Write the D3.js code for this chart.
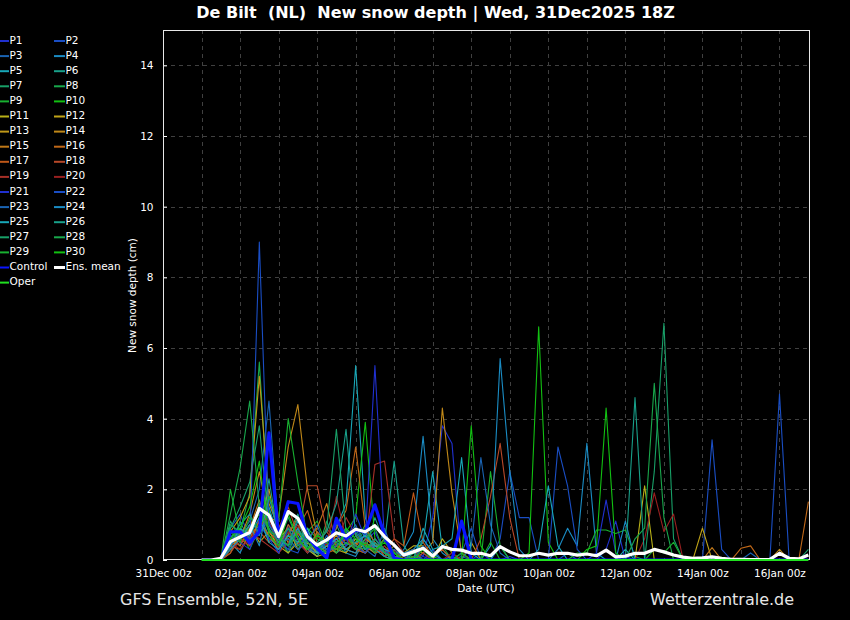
<!DOCTYPE html>
<html>
<head>
<meta charset="utf-8">
<script src="https://cdn.jsdelivr.net/npm/d3@7"></script>
<style>
  html, body { margin: 0; padding: 0; background: #000; }
  svg { display: block; font-family: 'DejaVu Sans', sans-serif; }
</style>
</head>
<body>
<div id="chart"></div>
<script>
/* global d3 */

// titles
const TITLE = 'De Bilt  (NL)  New snow depth | Wed, 31Dec2025 18Z';
const SUBTITLE_LEFT = 'GFS Ensemble, 52N, 5E';
const SUBTITLE_RIGHT = 'Wetterzentrale.de';
const Y_LABEL = 'New snow depth (cm)';
const X_LABEL = 'Date (UTC)';

// time axis: 6-hourly steps from 01Jan 00z to 16Jan 18z
const FIRST_STEP = Date.UTC(2026, 0, 1, 0);
const STEP_HOURS = 6;
const X_START = Date.UTC(2025, 11, 31, 0);
const X_END = Date.UTC(2026, 0, 16, 19);
const Y_TICKS = [0, 2, 4, 6, 8, 10, 12, 14];

// new snow depth (cm), one value per 6h step, 8 steps per row
const P1 = [0, 0, 0, 0.6, 0.9, 0.4, 1.2, 0.7,
  0.3, 1.0, 0.5, 0.2, 0.4, 0.1, 0.6, 0.9,
  0.3, 0.5, 0.8, 0.2, 0, 0, 0.3, 0.1,
  1.2, 3.8, 3.3, 0, 0, 0.2, 0, 0,
  0.1, 0, 0, 0, 0, 0, 0, 0,
  0, 0, 0.3, 1.1, 0, 0, 0, 0,
  0, 0, 0, 0, 0, 0, 0, 0,
  0, 0, 0, 0, 0, 0, 0, 0];
const P2 = [0, 0, 0, 0.9, 1.3, 0.6, 0.8, 1.1,
  0.5, 0.3, 0.9, 0.4, 0.2, 0.7, 0.3, 0.6,
  1.0, 0.4, 0.2, 0.6, 0, 0.2, 0, 0,
  0.3, 0, 0, 0.2, 0.9, 0, 0, 0.6,
  2.5, 1.2, 1.2, 0, 0, 0, 0.2, 0,
  0, 0, 0, 0, 0.1, 0, 0, 0,
  0, 0, 0, 0, 0, 3.4, 0.3, 0,
  0, 0, 0, 0, 0, 0, 0, 0];
const P3 = [0, 0, 0, 0.4, 0.7, 1.1, 2.0, 4.5,
  0.8, 0.2, 0.6, 0.3, 0.1, 0.5, 0.2, 0.4,
  0.6, 0.3, 0.1, 0.9, 0.1, 0, 0, 0.2,
  0, 0, 0, 0.1, 0, 0, 0, 0,
  0, 0, 0, 0, 0, 0, 0, 0,
  0, 0, 0, 0, 0, 0, 0, 0,
  0, 0, 0, 0, 0, 0, 0, 0,
  0, 0.2, 0, 0, 0, 0, 0, 0];
const P4 = [0, 0, 0, 0.5, 0.2, 0.8, 1.4, 0.6,
  0.4, 0.9, 0.7, 0.2, 0.5, 0.3, 0.8, 0.2,
  0.1, 0.6, 0.4, 0.2, 0, 0.3, 0.8, 3.5,
  0.6, 0.2, 0, 0, 0, 0, 0, 0.4,
  0, 0, 0, 0, 0, 0.3, 0.9, 0.4,
  3.3, 0.2, 0, 0, 0, 0, 0, 0,
  0, 0, 0, 0, 0, 0, 0, 0,
  0, 0, 0, 0, 0, 0, 0, 0];
const P5 = [0, 0, 0, 0.7, 0.4, 1.0, 0.9, 1.5,
  0.6, 0.4, 1.1, 0.5, 0.3, 0.2, 0.9, 1.6,
  5.5, 1.2, 0.4, 0.3, 0.1, 0, 0.2, 0.5,
  2.5, 0.3, 0, 0, 0, 0, 0, 0,
  0, 0, 0, 0, 0, 0, 0, 0,
  0, 0, 0, 0, 0.3, 0, 0, 0,
  0, 0, 0, 0, 0, 0, 0, 0,
  0, 0, 0, 0, 0, 0, 0, 0];
const P6 = [0, 0, 0, 0.3, 1.1, 0.5, 1.6, 0.9,
  0.2, 0.7, 1.3, 0.4, 0.1, 0.6, 1.0, 0.4,
  0.8, 0.3, 1.2, 0.5, 2.8, 0.4, 0, 0.6,
  0.2, 0, 0.1, 0, 0, 0, 0, 0,
  0, 0, 0, 0, 0, 0, 0, 0,
  0, 0, 0, 0, 0, 0, 0, 0,
  0, 0, 0, 0, 0, 0, 0, 0,
  0, 0, 0, 0, 0, 0, 0, 0];
const P7 = [0, 0, 0, 0.9, 1.5, 2.2, 3.8, 1.0,
  0.5, 1.2, 0.6, 0.3, 0.8, 0.2, 0.5, 0.7,
  0.4, 0.9, 0.3, 0.1, 0.4, 0.2, 0.3, 0,
  0, 0, 0, 0, 0, 0, 0, 0,
  0, 0, 0, 0, 0, 0, 0, 0,
  0, 0, 0, 0, 0, 0, 0, 2.5,
  6.7, 0.6, 0, 0, 0, 0, 0, 0,
  0, 0, 0, 0, 0, 0, 0, 0];
const P8 = [0, 0, 0, 1.0, 0.8, 1.9, 5.6, 1.2,
  0.6, 0.2, 0.9, 0.5, 0.2, 1.1, 0.4, 0.2,
  0.7, 0.3, 0.5, 0.2, 0, 0, 0.1, 0,
  0, 0.4, 0, 0, 0, 0, 0, 0,
  0, 0, 0, 0, 0, 0, 0, 0,
  0, 0, 0, 0, 0, 0, 0, 0,
  0, 0, 0, 0, 0, 0, 0, 0,
  0, 0, 0, 0, 0, 0, 0, 0];
const P9 = [0, 0, 0, 2.0, 0.7, 0.9, 1.3, 0.5,
  0.9, 0.6, 0.3, 0.8, 1.1, 0.4, 0.6, 0.3,
  0.5, 1.0, 0.2, 0.4, 0.1, 0, 0, 0,
  0.1, 0, 0, 0, 0, 0, 2.5, 0.4,
  0, 0, 0, 0, 0, 0, 0, 0.2,
  0.2, 0.85, 0.85, 0.75, 0.85, 0.1, 0, 0,
  0, 0, 0, 0, 0, 0, 0, 0,
  0, 0, 0, 0, 0, 0, 0, 0];
const P10 = [0, 0, 0, 0.5, 0.8, 0.3, 0.9, 1.4,
  0.3, 0.8, 0.4, 0.9, 0.6, 0.4, 0.2, 0.8,
  1.2, 3.9, 0.6, 0.3, 0.2, 0, 0, 0,
  0, 0, 0, 0, 0, 0, 0, 0,
  0, 0, 0.2, 6.6, 0.5, 0, 0, 0,
  0, 0, 0, 0, 0, 0, 0, 0,
  0, 0, 0, 0, 0, 0, 0, 0,
  0, 0, 0, 0, 0, 0, 0, 0];
const P11 = [0, 0, 0, 0.3, 0.6, 1.0, 0.5, 0.8,
  0.4, 0.2, 0.5, 0.3, 0.1, 0.2, 0.4, 0.6,
  0.3, 0.2, 0.5, 0.1, 0, 0.2, 0.4, 0.4,
  0, 0.6, 0.2, 0, 0, 0, 0, 0,
  0, 0, 0, 0, 0, 0, 0, 0,
  0, 0, 0, 0, 0, 0, 2.1, 0,
  0, 0, 0, 0, 0, 0, 0, 0,
  0, 0, 0, 0, 0, 0, 0, 0];
const P12 = [0, 0, 0, 0.2, 0.8, 0.5, 1.1, 2.0,
  0.6, 0.9, 0.3, 0.5, 0.2, 0.4, 0.3, 0.2,
  0.6, 0.4, 0.2, 0.3, 0.1, 0, 0.1, 0,
  0, 0, 0, 0, 0.5, 0, 0, 0,
  0, 0, 0, 0, 0, 0, 0, 0,
  0, 0, 0, 0, 0, 0, 0, 0,
  0, 0, 0, 0, 0.9, 0, 0, 0,
  0, 0, 0, 0, 0, 0, 0, 0];
const P13 = [0, 0, 0, 0.8, 1.2, 1.8, 5.2, 1.6,
  0.9, 0.5, 0.8, 0.3, 0.2, 0.4, 0.7, 0.3,
  0.2, 0.5, 0.3, 0.6, 0.2, 0, 0, 0,
  0, 0, 0, 0, 0, 0, 0, 0,
  0, 0, 0, 0, 0, 0, 0, 0,
  0, 0, 0, 0, 0, 0, 0, 0,
  0, 0, 0, 0, 0, 0, 0, 0,
  0, 0, 0, 0, 0, 0, 0, 0];
const P14 = [0, 0, 0, 0.4, 0.6, 1.3, 2.5, 1.1,
  1.2, 3.2, 4.4, 2.0, 0.7, 0.4, 0.2, 0.5,
  0.3, 0.6, 0.4, 0.2, 0, 0.1, 0.3, 0.2,
  0.5, 4.3, 1.9, 0.2, 0, 0, 0, 0,
  0, 0, 0, 0, 0, 0, 0, 0,
  0, 0, 0, 0, 0, 0, 0, 0,
  0, 0, 0, 0, 0, 0, 0, 0,
  0, 0, 0, 0, 0.3, 0, 0, 0];
const P15 = [0, 0, 0, 0.6, 0.4, 0.9, 1.7, 0.8,
  0.5, 0.7, 1.2, 0.6, 0.9, 1.6, 0.4, 0.3,
  0.5, 0.2, 0.6, 0.3, 0.1, 0, 0, 0,
  0, 0, 0, 0, 0, 0, 0, 0,
  0, 0, 0, 0, 0, 0, 0, 0,
  0, 0, 0, 0, 0, 0, 0, 0,
  0, 0, 0, 0, 0, 0.35, 0, 0,
  0, 0, 0, 0, 0, 0, 0, 0];
const P16 = [0, 0, 0, 0.5, 0.9, 0.6, 1.1, 0.7,
  0.3, 1.0, 0.6, 0.2, 0.8, 0.5, 0.9, 1.4,
  3.2, 0.9, 0.5, 0.2, 0.4, 0.1, 0, 0,
  0, 0, 0, 0, 0, 0, 0, 0,
  0, 0, 0, 0, 0, 0, 0, 0,
  0, 0, 0, 0, 0, 0, 0, 0,
  0, 0, 0, 0, 0, 0, 0, 0,
  0.33, 0.4, 0, 0, 0, 0, 0, 1.65];
const P17 = [0, 0, 0, 0.4, 0.3, 0.7, 0.9, 1.3,
  0.4, 0.6, 0.9, 1.4, 0.5, 0.2, 0.3, 0.6,
  0.4, 0.7, 0.3, 0.2, 0.6, 0.4, 1.9, 0.5,
  0.1, 0.3, 0, 0, 0, 0, 0, 0,
  0, 0, 0, 0, 0, 0, 0, 0,
  0, 0, 0, 0, 0, 0, 0, 0,
  0, 0, 0, 0, 0, 0, 0, 0,
  0, 0, 0, 0, 0, 0, 0, 0];
const P18 = [0, 0, 0, 0.2, 0.6, 0.4, 0.8, 0.5,
  0.9, 1.5, 0.7, 2.1, 2.1, 0.8, 0.4, 0.6,
  0.3, 0.2, 0.5, 0.1, 0.3, 0, 0, 0.2,
  0, 0, 0, 0, 0, 0.6, 1.8, 3.3,
  1.2, 0, 0, 0, 0, 0, 0, 0,
  0, 0, 0, 0, 0, 0, 0, 0,
  0, 0, 0, 0, 0, 0, 0, 0,
  0, 0, 0, 0, 0, 0, 0, 0];
const P19 = [0, 0, 0, 0.3, 0.5, 0.8, 0.6, 0.4,
  0.2, 0.5, 1.0, 0.6, 0.3, 0.9, 0.5, 1.2,
  0.7, 0.4, 2.7, 2.8, 0.6, 0.2, 0.3, 0,
  0, 0, 0, 0, 0, 0, 0, 0,
  0, 0, 0, 0, 0, 0, 0, 0,
  0, 0, 0, 0, 0, 0, 0, 0,
  0, 0, 0, 0, 0, 0, 0, 0,
  0, 0, 0, 0, 0, 0, 0, 0];
const P20 = [0, 0, 0, 0.5, 0.3, 0.6, 0.9, 1.2,
  0.3, 0.8, 0.5, 0.2, 0.7, 0.4, 1.8, 0.6,
  0.3, 0.5, 0.2, 0.4, 0, 0, 0.1, 0.3,
  0, 0, 0.2, 0, 0, 0, 0, 0,
  0, 0, 0, 0, 0, 0, 0, 0,
  0, 0, 0, 0, 0, 0, 0.6, 1.9,
  0.8, 1.3, 0, 0, 0, 0, 0, 0,
  0, 0, 0, 0, 0, 0, 0, 0];
const P21 = [0, 0, 0, 0.7, 0.5, 0.3, 1.0, 0.6,
  0.2, 0.9, 0.4, 0.7, 0.3, 0.5, 0.8, 0.4,
  1.3, 0.6, 5.5, 0.5, 0.2, 0, 0, 0.1,
  0, 0, 0, 0, 0, 0, 0, 0,
  0, 0, 0, 0, 0, 0, 0, 0,
  0, 0.2, 1.7, 0.2, 0, 0, 0, 0,
  0, 0, 0, 0, 0, 0, 0, 0,
  0, 0, 0, 0, 0, 0, 0, 0];
const P22 = [0, 0, 0, 0.4, 0.8, 0.5, 9.0, 1.0,
  0.6, 0.3, 0.2, 0.8, 0.4, 0.3, 0.6, 0.9,
  0.4, 0.2, 0.6, 0.3, 0, 0, 0, 0,
  0, 0, 0, 0, 0, 0, 0, 0,
  0, 0, 0, 0, 0, 3.2, 2.1, 0.3,
  0, 0, 0, 0, 0, 0, 0, 0,
  0, 0, 0, 0, 0, 0, 0, 0,
  0, 0, 0, 0, 4.7, 0, 0, 0];
const P23 = [0, 0, 0, 0.5, 0.9, 0.6, 0.7, 1.3,
  0.4, 0.6, 0.3, 0.5, 1.0, 0.2, 0.4, 0.7,
  0.9, 0.3, 0.4, 0.2, 0.3, 0.1, 0, 0.4,
  0, 0, 0, 0, 0.4, 2.9, 1.0, 0.2,
  0, 0, 0, 0, 0, 0, 0, 0,
  0, 0, 0, 0, 0, 0, 0, 0,
  0, 0, 0, 0, 0, 0, 0, 0,
  0, 0, 0, 0, 0, 0, 0, 0];
const P24 = [0, 0, 0, 0.3, 0.6, 1.0, 0.4, 1.8,
  0.7, 0.4, 0.9, 0.3, 0.2, 0.6, 0.5, 0.3,
  0.2, 0.8, 0.3, 0.1, 0, 0.2, 0.3, 0.6,
  0.2, 0, 0, 0, 0, 0, 0.4, 5.7,
  2.5, 0.3, 0, 0, 0, 0, 0, 0,
  0, 0, 0, 0, 1.1, 0, 0, 0,
  0, 0, 0, 0, 0, 0, 0, 0,
  0, 0, 0, 0, 0, 0, 0, 0];
const P25 = [0, 0, 0, 0.4, 0.9, 0.7, 1.2, 0.5,
  0.3, 0.7, 0.5, 0.9, 0.2, 0.4, 0.6, 0.3,
  0.5, 0.7, 0.4, 0.3, 0.2, 0.2, 0, 0.9,
  0.3, 0.4, 0.6, 2.9, 0.2, 0, 0, 0,
  0, 0, 0, 0.3, 2.1, 0.4, 0, 0,
  0, 0, 0, 0, 0, 0, 0, 0,
  0, 0, 0, 0, 0, 0, 0, 0,
  0, 0, 0, 0, 0, 0, 0, 0];
const P26 = [0, 0, 0, 0.6, 1.0, 1.3, 0.7, 2.3,
  0.6, 0.4, 1.2, 0.3, 0.5, 0.8, 1.6, 3.7,
  0.7, 0.3, 0.5, 0.2, 0.1, 0, 0, 0,
  0, 0, 0, 0, 0, 0, 0, 0,
  0, 0, 0, 0, 0, 0, 0, 0,
  0, 0, 0, 0, 0, 4.6, 0, 0,
  0, 0, 0, 0, 0, 0, 0, 0,
  0, 0, 0, 0, 0, 0, 0, 0];
const P27 = [0, 0, 0, 1.1, 0.6, 0.8, 1.4, 0.9,
  0.5, 0.9, 0.4, 0.6, 0.3, 0.9, 3.7, 0.8,
  0.4, 0.3, 0.6, 0.2, 0.1, 0, 0.2, 0,
  0, 0, 0, 0, 0, 0, 0, 0,
  0, 0, 0, 0, 0, 0, 0, 0,
  0, 0, 0, 0, 0, 0, 0, 0,
  0, 0, 0, 0, 0, 0, 0, 0,
  0, 0, 0, 0, 0, 0, 0, 0.3];
const P28 = [0, 0, 0, 1.3, 2.6, 4.5, 1.5, 0.8,
  0.7, 0.4, 0.8, 0.5, 0.3, 0.6, 0.2, 0.5,
  0.3, 0.6, 0.9, 0.2, 0, 0, 0, 0,
  0, 0, 0, 0, 0, 0, 0, 0,
  0, 0, 0, 0, 0, 0, 0, 0,
  0, 0, 0, 0, 0, 0.6, 0.9, 5.0,
  1.2, 0, 0, 0, 0, 0, 0, 0,
  0, 0, 0, 0, 0, 0, 0, 0];
const P29 = [0, 0, 0, 0.8, 0.5, 1.2, 0.9, 1.8,
  1.1, 4.0, 2.2, 0.6, 0.4, 0.2, 0.5, 0.7,
  0.3, 0.5, 0.2, 0.6, 0.2, 0, 0.1, 0,
  0, 0, 0, 0.2, 0, 0, 0.5, 0,
  0, 0, 0, 0, 0, 0, 0, 0,
  0, 0, 0, 0, 0, 0, 0, 0.3,
  0.2, 0.5, 0, 0, 0, 0, 0, 0,
  0, 0, 0, 0, 0, 0, 0, 0];
const P30 = [0, 0, 0, 0.6, 0.9, 1.5, 2.8, 0.7,
  0.4, 1.3, 0.6, 0.3, 0.7, 0.5, 0.3, 0.9,
  0.6, 0.4, 0.3, 0.5, 0.2, 0, 0, 0.3,
  0, 0, 0, 0, 3.8, 0.4, 0, 0,
  0, 0, 0, 0, 0, 0, 0, 0,
  0.3, 0.4, 4.3, 0.2, 0, 0, 0, 0,
  0, 0, 0, 0, 0, 0, 0, 0,
  0, 0, 0, 0, 0, 0, 0, 0];
const CONTROL = [0, 0, 0, 0.8, 0.8, 0.5, 0.8, 3.6,
  0.65, 1.65, 1.6, 0.66, 0.33, 0.05, 1.18, 0.6,
  0.85, 0.8, 1.56, 0.7, 0.05, 0, 0, 0,
  0, 0, 0, 1.1, 0, 0, 0, 0,
  0, 0, 0, 0, 0, 0, 0, 0,
  0, 0, 0, 0, 0, 0, 0, 0,
  0, 0, 0, 0, 0, 0, 0, 0,
  0, 0, 0, 0, 0, 0, 0, 0];
const OPER = [0, 0, 0, 0, 0, 0, 0, 0,
  0, 0, 0, 0, 0, 0, 0, 0,
  0, 0, 0, 0, 0, 0, 0, 0,
  0, 0, 0, 0, 0, 0, 0, 0,
  0, 0, 0, 0, 0, 0, 0, 0,
  0, 0, 0, 0, 0, 0, 0, 0,
  0, 0, 0, 0, 0, 0, 0, 0,
  0, 0, 0, 0, 0, 0, 0, 0];
const ENS_MEAN = [0, 0, 0.05, 0.52, 0.65, 0.78, 1.46, 1.27,
  0.66, 1.37, 1.18, 0.66, 0.42, 0.57, 0.77, 0.68,
  0.87, 0.8, 0.97, 0.66, 0.42, 0.14, 0.23, 0.33,
  0.11, 0.38, 0.3, 0.28, 0.19, 0.19, 0.12, 0.38,
  0.23, 0.12, 0.12, 0.19, 0.14, 0.19, 0.19, 0.14,
  0.17, 0.12, 0.28, 0.09, 0.11, 0.19, 0.19, 0.3,
  0.23, 0.14, 0.08, 0.05, 0.06, 0.09, 0.05, 0.02,
  0.02, 0.01, 0.01, 0.02, 0.19, 0.05, 0.03, 0.14];

const MEMBERS = [P1, P2, P3, P4, P5, P6, P7, P8, P9, P10,
  P11, P12, P13, P14, P15, P16, P17, P18, P19, P20,
  P21, P22, P23, P24, P25, P26, P27, P28, P29, P30];

// colours of P1..P20, repeated for P21..P30
const MEMBER_COLORS = ['#2030d0', '#1a4ec4', '#1a64b4', '#1a8cc4', '#18a8b8',
  '#18a08a', '#18a068', '#18a84c', '#18b030', '#12c012',
  '#b8b018', '#c0a418', '#c09818', '#c08818', '#c07818',
  '#c06818', '#c05818', '#b84828', '#a83028', '#982020'];
const CONTROL_COLOR = '#0a14ff';
const MEAN_COLOR = '#fff';
const OPER_COLOR = '#20e020';

// dimensions
const WIDTH = 850;
const HEIGHT = 620;
const PLOT_LEFT = 163;
const PLOT_RIGHT = 810;
const PLOT_TOP = 30;
const PLOT_BOTTOM = 560;
const FONT = 10.5;

// helper functions
const stepTime = (i) => new Date(FIRST_STEP + i * STEP_HOURS * 3600e3);
const memberColor = (i) => MEMBER_COLORS[i < 20 ? i : i - 20];

const $svg = d3.select('#chart').append('svg')
  .attr('width', WIDTH)
  .attr('height', HEIGHT)
  .style('background', '#000');

// scales
const scaleX = d3.scaleUtc()
  .domain([new Date(X_START), new Date(X_END)])
  .range([PLOT_LEFT, PLOT_RIGHT]);
const scaleY = d3.scaleLinear().domain([0, 15]).range([PLOT_BOTTOM, PLOT_TOP]);

$svg.append('defs').append('clipPath').attr('id', 'plot-clip')
  .append('rect')
  .attr('x', PLOT_LEFT).attr('y', PLOT_TOP)
  .attr('width', PLOT_RIGHT - PLOT_LEFT).attr('height', PLOT_BOTTOM - PLOT_TOP);

// grid
const $grid = $svg.append('g').attr('class', 'g-grid')
  .attr('stroke', '#404040').attr('stroke-dasharray', '4,4').attr('stroke-width', 1);
$grid.selectAll('.grid-x')
  .data(d3.utcDay.range(d3.utcDay.offset(new Date(X_START), 1), new Date(X_END)))
  .join('line')
  .attr('x1', (d) => Math.round(scaleX(d)) + 0.5)
  .attr('x2', (d) => Math.round(scaleX(d)) + 0.5)
  .attr('y1', PLOT_TOP).attr('y2', PLOT_BOTTOM);
$grid.selectAll('.grid-y')
  .data(Y_TICKS.slice(1))
  .join('line')
  .attr('x1', PLOT_LEFT).attr('x2', PLOT_RIGHT)
  .attr('y1', (d) => Math.round(scaleY(d)) + 0.5)
  .attr('y2', (d) => Math.round(scaleY(d)) + 0.5);

// axes
const $axisY = $svg.append('g')
  .attr('transform', `translate(${PLOT_LEFT},0)`)
  .call(d3.axisLeft(scaleY).tickValues(Y_TICKS).tickSize(-4).tickPadding(9.5));
$axisY.select('.domain').remove();
$axisY.selectAll('line').attr('stroke', '#fff');
$axisY.selectAll('text').attr('fill', '#fff').style('font-size', `${FONT}px`)
  .style('font-family', 'DejaVu Sans');

const $axisX = $svg.append('g')
  .attr('transform', `translate(0,${PLOT_BOTTOM})`)
  .call(d3.axisBottom(scaleX)
    .tickValues(d3.utcDay.range(new Date(X_START), new Date(X_END), 2))
    .tickFormat(d3.utcFormat('%d%b %Hz'))
    .tickSize(0).tickPadding(9.5));
$axisX.select('.domain').remove();
$axisX.selectAll('text').attr('fill', '#fff').style('font-size', `${FONT}px`)
  .style('font-family', 'DejaVu Sans');

// lines
const line = d3.line()
  .x((d, i) => scaleX(stepTime(i)))
  .y((d) => scaleY(d));

const $vis = $svg.append('g').attr('class', 'g-vis').attr('clip-path', 'url(#plot-clip)');

$vis.selectAll('.member')
  .data(MEMBERS)
  .join('path')
  .attr('class', 'member')
  .attr('fill', 'none')
  .attr('stroke', (d, i) => memberColor(i))
  .attr('stroke-width', 1.1)
  .attr('stroke-linejoin', 'round')
  .attr('d', line);

$vis.append('path').datum(CONTROL)
  .attr('fill', 'none').attr('stroke', CONTROL_COLOR).attr('stroke-width', 3.2)
  .attr('stroke-linejoin', 'round')
  .attr('d', line);

$vis.append('path').datum(ENS_MEAN)
  .attr('fill', 'none').attr('stroke', MEAN_COLOR).attr('stroke-width', 3.2)
  .attr('stroke-linejoin', 'round')
  .attr('d', line);

// frame
$svg.append('rect')
  .attr('x', PLOT_LEFT + 0.5).attr('y', PLOT_TOP + 0.5)
  .attr('width', PLOT_RIGHT - PLOT_LEFT - 1).attr('height', PLOT_BOTTOM - PLOT_TOP - 1)
  .attr('fill', 'none').attr('stroke', '#e8e8e8').attr('stroke-width', 1);

$svg.append('path').datum(OPER)
  .attr('fill', 'none').attr('stroke', OPER_COLOR).attr('stroke-width', 2.2)
  .attr('d', line);

// texts
$svg.append('text')
  .attr('x', 435.5).attr('y', 18)
  .attr('text-anchor', 'middle')
  .style('white-space', 'pre')
  .style('font-size', '16px').style('font-weight', 'bold')
  .attr('fill', '#fff')
  .text(TITLE);

$svg.append('text')
  .attr('transform', 'translate(136,295.5) rotate(-90)')
  .attr('text-anchor', 'middle')
  .style('font-size', `${FONT}px`)
  .attr('fill', '#fff')
  .text(Y_LABEL);

$svg.append('text')
  .attr('x', 486).attr('y', 592)
  .attr('text-anchor', 'middle')
  .style('font-size', `${FONT}px`)
  .attr('fill', '#fff')
  .text(X_LABEL);

$svg.append('text')
  .attr('x', 120).attr('y', 605)
  .style('font-size', '16px')
  .attr('fill', '#e6e6e6')
  .text(SUBTITLE_LEFT);

$svg.append('text')
  .attr('x', 650).attr('y', 605)
  .style('font-size', '16px')
  .attr('fill', '#e6e6e6')
  .text(SUBTITLE_RIGHT);

// legend: two columns, P1..P30 then Control, Ens. mean, Oper
const legendItems = MEMBERS.map((d, i) => ({ name: `P${i + 1}`, color: memberColor(i), width: 2 }));
legendItems.push({ name: 'Control', color: CONTROL_COLOR, width: 2 });
legendItems.push({ name: 'Ens. mean', color: MEAN_COLOR, width: 3 });
legendItems.push({ name: 'Oper', color: OPER_COLOR, width: 2 });

const $legend = $svg.append('g').attr('class', 'g-legend');
const $item = $legend.selectAll('.item')
  .data(legendItems)
  .join('g')
  .attr('class', 'item')
  .attr('transform', (d, i) => `translate(${i % 2 ? 54 : 0},${41 + Math.floor(i / 2) * 15.1})`);
$item.append('line')
  .attr('x1', 0).attr('x2', (d, i) => (i % 2 ? 11 : 9))
  .attr('y1', 0).attr('y2', 0)
  .attr('stroke', (d) => d.color)
  .attr('stroke-width', (d) => d.width);
$item.append('text')
  .attr('x', (d, i) => (i % 2 ? 11.5 : 9.5))
  .attr('y', 2.5)
  .style('font-size', `${FONT}px`)
  .attr('fill', '#fff')
  .text((d) => d.name);
</script>
</body>
</html>
